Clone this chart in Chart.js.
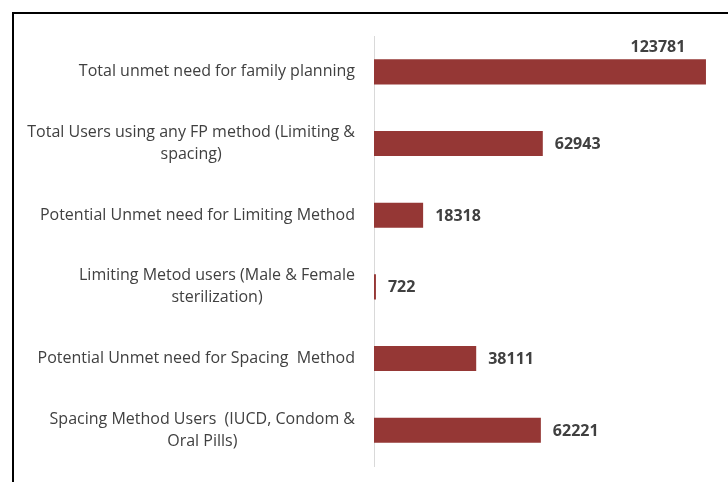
<!DOCTYPE html>
<html>
<head>
<meta charset="utf-8">
<script src="https://cdn.jsdelivr.net/npm/chart.js@4/dist/chart.umd.min.js"></script>
<style>
  html, body { margin: 0; padding: 0; background: #fff; overflow: hidden; }
  #frame {
    position: absolute; left: 12px; top: 12px;
    width: 800px; height: 600px;
    border: 2px solid #000; box-sizing: border-box;
  }
  #wrap { position: absolute; left: 0; top: 0; width: 728px; height: 482px; }
</style>
</head>
<body>
<div id="frame"></div>
<div id="wrap"><canvas id="fpChart" width="728" height="482"></canvas></div>
<script>
// categories (top to bottom) and values
const categories = [
  ["Total unmet need for family planning"],
  ["Total Users using any FP method (Limiting &", "spacing)"],
  ["Potential Unmet need for Limiting Method"],
  ["Limiting Metod users (Male & Female", "sterilization)"],
  ["Potential Unmet need for Spacing  Method"],
  ["Spacing Method Users  (IUCD, Condom &", "Oral Pills)"]
];
const values = [123781, 62943, 18318, 722, 38111, 62221];

const labelFont = "16px 'Open Sans', Lato, sans-serif";
const valueFont = "bold 16px 'Open Sans', Lato, sans-serif";
const textColor = "#404040";

/**
 * Category labels: block right-aligned, lines centered inside the block.
 */
const categoryLabels = {
  id: "categoryLabels",
  afterDraw(chart) {
    const ctx = chart.ctx;
    const yScale = chart.scales.y;
    const right = chart.chartArea.left - 19;
    const lineH = 22;
    ctx.save();
    ctx.font = labelFont;
    ctx.fillStyle = textColor;
    ctx.textBaseline = "middle";
    ctx.textAlign = "center";
    categories.forEach((lines, i) => {
      const cy = yScale.getPixelForValue(i);
      const blockW = Math.max(...lines.map((l) => ctx.measureText(l).width));
      const cx = right - blockW / 2;
      const y0 = cy - ((lines.length - 1) * lineH) / 2;
      lines.forEach((line, j) => ctx.fillText(line, cx, y0 + j * lineH));
    });
    ctx.restore();
  }
};

/**
 * Value labels at the end of each bar.
 */
const valueLabels = {
  id: "valueLabels",
  afterDatasetsDraw(chart) {
    const ctx = chart.ctx;
    const meta = chart.getDatasetMeta(0);
    ctx.save();
    ctx.font = valueFont;
    ctx.fillStyle = textColor;
    ctx.textBaseline = "middle";
    meta.data.forEach((bar, i) => {
      const text = String(values[i]);
      if (bar.x > chart.chartArea.right - 60) {
        ctx.textAlign = "center";
        ctx.fillText(text, bar.x - 48, bar.y - bar.height / 2 - 12);
      } else {
        ctx.textAlign = "left";
        ctx.fillText(text, bar.x + 12, bar.y + 1);
      }
    });
    ctx.restore();
  }
};

new Chart(document.getElementById("fpChart"), {
  type: "bar",
  data: {
    labels: categories,
    datasets: [{
      data: values,
      backgroundColor: "#953735",
      borderWidth: 0,
      barPercentage: 0.7,
      categoryPercentage: 0.5
    }]
  },
  options: {
    indexAxis: "y",
    responsive: false,
    animation: false,
    devicePixelRatio: 1,
    layout: { padding: { left: 374, top: 36, bottom: 16, right: 0 } },
    plugins: {
      legend: { display: false },
      tooltip: { enabled: false }
    },
    scales: {
      x: {
        display: false,
        min: 0,
        max: 132000
      },
      y: {
        ticks: { display: false },
        grid: { display: false, drawTicks: false },
        border: { display: true, color: "#d9d9d9", width: 1 },
        afterFit: (scale) => { scale.width = 0; }
      }
    }
  },
  plugins: [categoryLabels, valueLabels]
});
</script>
</body>
</html>
